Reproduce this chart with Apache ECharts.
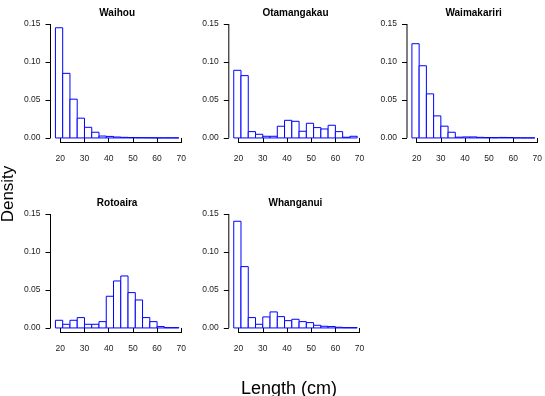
<!DOCTYPE html>
<html><head><meta charset="utf-8">
<script src="https://cdn.jsdelivr.net/npm/echarts@6/dist/echarts.min.js"></script>
<style>html,body{margin:0;padding:0;background:#fff}#c{width:545px;height:396px}</style>
</head><body><div id="c"></div>
<script>
// ---- data ----
const sites = ['Waihou', 'Otamangakau', 'Waimakariri', 'Rotoaira', 'Whanganui'];
const binEdges = [18, 21, 24, 27, 30, 33, 36, 39, 42, 45, 48, 51, 54, 57, 60, 63, 66, 69];
const waihou      = [0.145, 0.085, 0.051, 0.026, 0.014, 0.0075, 0.0025, 0.002, 0.0012, 0.0008, 0.0006, 0.0004, 0.0003, 0.0002, 0.0001, 0.0001, 0.0001];
const otamangakau = [0.089, 0.082, 0.0083, 0.0048, 0.0022, 0.0022, 0.0154, 0.0232, 0.0219, 0.0088, 0.0193, 0.0136, 0.0118, 0.0167, 0.0083, 0.0009, 0.0022];
const waimakariri = [0.124, 0.095, 0.058, 0.029, 0.0155, 0.0075, 0.001, 0.0013, 0.0013, 0.0008, 0.0005, 0.0005, 0.0007, 0.0006, 0.0002, 0.0001, 0.0001];
const rotoaira    = [0.0101, 0.0048, 0.0101, 0.0136, 0.0048, 0.0048, 0.0083, 0.0417, 0.0618, 0.0684, 0.0465, 0.0368, 0.0136, 0.0083, 0.0018, 0.0004, 0.0004];
const whanganui   = [0.1404, 0.0807, 0.0136, 0.0048, 0.0145, 0.0211, 0.0149, 0.0096, 0.0114, 0.0083, 0.007, 0.0035, 0.0022, 0.0018, 0.0009, 0.0004, 0.0004];
const densities = [waihou, otamangakau, waimakariri, rotoaira, whanganui];
const xTicks = [20, 30, 40, 50, 60, 70];
const yTicks = [0, 0.05, 0.10, 0.15];
const xLabel = 'Length (cm)';
const yLabel = 'Density';

// ---- layout ----
const FONT = "'Liberation Sans', Arial, Helvetica, sans-serif";
const panelLeft = [50.5, 228.8, 407];
const panelTop = [19.4, 209.4];
const panelW = 133.3, panelH = 123.1;

const xSpan = binEdges[binEdges.length - 1] - binEdges[0];
const xMin = binEdges[0] - 0.04 * xSpan, xMax = binEdges[binEdges.length - 1] + 0.04 * xSpan;
const ySpan = yTicks[yTicks.length - 1] - yTicks[0];
const yMin = yTicks[0] - 0.04 * ySpan, yMax = yTicks[yTicks.length - 1] + 0.04 * ySpan;

const grid = [], xAxis = [], yAxis = [], series = [], title = [];
sites.forEach((name, i) => {
  const col = i % 3, row = Math.floor(i / 3);
  grid.push({left: panelLeft[col], top: panelTop[row], width: panelW, height: panelH, containLabel: false});
  xAxis.push({
    type: 'value', gridIndex: i, min: xMin, max: xMax,
    axisLine: {show: false}, splitLine: {show: false},
    axisTick: {show: true, inside: false, length: 5, customValues: xTicks, lineStyle: {color: '#000', width: 1}},
    axisLabel: {show: true, customValues: xTicks, margin: 12, fontSize: 8.5, color: '#222', fontFamily: FONT}
  });
  yAxis.push({
    type: 'value', gridIndex: i, min: yMin, max: yMax,
    axisLine: {show: false}, splitLine: {show: false},
    axisTick: {show: true, inside: false, length: 5, customValues: yTicks, lineStyle: {color: '#000', width: 1}},
    axisLabel: {show: true, customValues: yTicks, margin: 10, fontSize: 8.5, color: '#222', fontFamily: FONT,
      formatter: v => v.toFixed(2)}
  });
  title.push({
    text: name, left: panelLeft[col] + panelW / 2, top: panelTop[row] - 11.5, textAlign: 'center', padding: 0,
    textStyle: {fontSize: 10, fontWeight: 'bold', color: '#000', fontFamily: FONT}
  });
  const vals = densities[i];
  series.push({
    type: 'custom', xAxisIndex: i, yAxisIndex: i, silent: true,
    data: vals.map((v, k) => [binEdges[k], binEdges[k + 1], v]),
    encode: {x: [0, 1], y: 2},
    renderItem: (params, api) => {
      const p0 = api.coord([api.value(0), api.value(2)]);
      const p1 = api.coord([api.value(1), 0]);
      return {type: 'rect', shape: {x: p0[0], y: p0[1], width: p1[0] - p0[0], height: p1[1] - p0[1]},
        style: {fill: '#fff', stroke: '#0000ff', lineWidth: 1}};
    }
  });
  // R-style axis lines spanning the tick range only
  series.push({
    type: 'line', xAxisIndex: i, yAxisIndex: i, silent: true, symbol: 'none', clip: false,
    data: [[xTicks[0], yMin], [xTicks[xTicks.length - 1], yMin]],
    lineStyle: {color: '#000', width: 1}, z: 5
  });
  series.push({
    type: 'line', xAxisIndex: i, yAxisIndex: i, silent: true, symbol: 'none', clip: false,
    data: [[xMin, yTicks[0]], [xMin, yTicks[yTicks.length - 1]]],
    lineStyle: {color: '#000', width: 1}, z: 5
  });
});

const chart = echarts.init(document.getElementById('c'), null, {renderer: 'canvas'});
chart.setOption({
  animation: false,
  backgroundColor: '#fff',
  title, grid, xAxis, yAxis, series,
  graphic: [
    {type: 'text', x: 289, y: 389, style: {text: xLabel, font: '18px ' + FONT, fill: '#000', textAlign: 'center', textVerticalAlign: 'middle'}},
    {type: 'text', x: 8, y: 194, rotation: Math.PI / 2, style: {text: yLabel, font: '17px ' + FONT, fill: '#000', textAlign: 'center', textVerticalAlign: 'middle'}}
  ]
});
</script>
</body></html>
